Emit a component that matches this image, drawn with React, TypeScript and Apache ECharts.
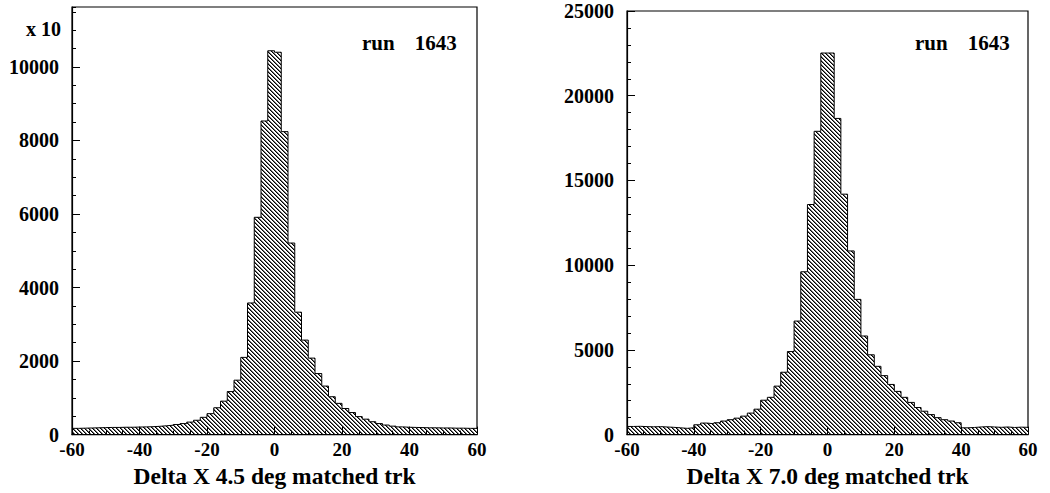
import React, { useEffect, useRef } from "react";
import * as echarts from "echarts";

// ---- data ----
const X_MIN = -60;
const X_MAX = 60;
const BIN_WIDTH = 2;
const xTickInterval = 20;

// left histogram (Delta X 4.5 deg), displayed in units of x10
const leftCounts = [
  170, 175, 180, 185, 190, 195, 195, 200, 200, 205,
  210, 215, 225, 240, 255, 275, 300, 340, 390, 470,
  570, 730, 910, 1170, 1480, 2100, 3580, 5910, 8530, 10440,
  10400, 8240, 5210, 3330, 2570, 2080, 1660, 1320, 1030, 850,
  710, 600, 490, 420, 350, 300, 260, 230, 210, 200,
  195, 190, 185, 185, 180, 180, 175, 175, 170, 170,
];

// right histogram (Delta X 7.0 deg)
const rightCounts = [
  480, 490, 470, 460, 470, 450, 430, 400, 370, 400,
  580, 680, 640, 700, 800, 880, 970, 1090, 1270, 1500,
  2030, 2200, 2860, 3680, 4900, 6700, 9610, 13580, 17900, 22520,
  22520, 18660, 14190, 10840, 7980, 5820, 4710, 4030, 3480, 2960,
  2550, 2200, 1900, 1600, 1380, 1180, 1000, 880, 800, 700,
  400, 420, 450, 470, 450, 430, 450, 420, 440, 430,
];

const leftYMax = 11630;
const leftYInterval = 2000;
const leftYMinor = 500;
const rightYMax = 25000;
const rightYInterval = 5000;

const leftTitle = "Delta X 4.5 deg matched trk";
const rightTitle = "Delta X 7.0 deg matched trk";
const runWord = "run";
const runNumber = "1643";
const leftScaleLabel = "x 10";

const FONT = "'Liberation Serif', 'Times New Roman', serif";

function stepPoints(counts: number[]) {
  const pts: number[][] = [];
  counts.forEach((v, i) => {
    const x0 = X_MIN + i * BIN_WIDTH;
    pts.push([x0, v], [x0 + BIN_WIDTH, v]);
  });
  return pts;
}

function makeHatch() {
  const s = 4;
  const c = document.createElement("canvas");
  c.width = s;
  c.height = s;
  const ctx = c.getContext("2d")!;
  ctx.fillStyle = "#ffffff";
  ctx.fillRect(0, 0, s, s);
  for (let i = 0; i < s; i++) {
    ctx.fillStyle = "#000000";
    ctx.fillRect(i, i, 1, 1);
    ctx.fillStyle = "#707070";
    ctx.fillRect((i + 1) % s, i, 1, 1);
  }
  return c;
}

export default function App() {
  const ref = useRef<HTMLDivElement>(null);
  useEffect(() => {
    if (!ref.current) return;
    const chart = echarts.init(ref.current, undefined, { renderer: "svg" });
    const hatch = makeHatch();
    const pattern: any = { image: hatch, repeat: "repeat", imageWidth: 4, imageHeight: 4 };

    const plain = (v: number) => String(v);
    const xLabelStyle = { color: "#000", fontSize: 19, lineHeight: 14, fontWeight: "bold" as const, fontFamily: FONT };
    const yLabelStyle = { color: "#000", fontSize: 20, lineHeight: 14, fontWeight: "bold" as const, fontFamily: FONT };
    const xAxisBase = (gridIndex: number, name: string) => ({
      type: "value" as const,
      gridIndex,
      min: X_MIN,
      max: X_MAX,
      interval: xTickInterval,
      z: 5,
      axisLine: { show: true, onZero: false, lineStyle: { color: "#000", width: 1.2 } },
      axisTick: { show: true, inside: true, length: 8, lineStyle: { color: "#000", width: 1 } },
      minorTick: { show: true, splitNumber: 4, length: 4, lineStyle: { color: "#000", width: 1 } },
      axisLabel: { ...xLabelStyle, margin: 8, formatter: plain },
      splitLine: { show: false },
      name,
      nameLocation: "middle" as const,
      nameGap: 20,
      nameTextStyle: { color: "#000", fontSize: 23.5, fontWeight: "bold" as const, fontFamily: FONT },
    });

    const runText = (left: number) => ({
      type: "text",
      left,
      top: 32,
      style: {
        text: `{a|${runWord}}{s|  }{a|${runNumber}}`,
        rich: {
          a: { fill: "#000", fontSize: 21, fontWeight: "bold", fontFamily: FONT },
          s: { fontSize: 21, width: 20 },
        },
      },
    });

    chart.setOption({
      animation: false,
      backgroundColor: "#fff",
      textStyle: { fontFamily: FONT },
      grid: [
        { left: 72, top: 7, width: 405, height: 431, show: true, borderColor: "#000", borderWidth: 1.2, backgroundColor: "transparent" },
        { left: 627, top: 11, width: 401, height: 428, show: true, borderColor: "#000", borderWidth: 1.2, backgroundColor: "transparent" },
      ],
      xAxis: [xAxisBase(0, leftTitle), xAxisBase(1, rightTitle)],
      yAxis: [
        {
          type: "value", gridIndex: 0, min: 0, max: leftYMax, interval: leftYInterval, z: 5,
          axisLine: { show: true, onZero: false, lineStyle: { color: "#000", width: 1.2 } },
          axisTick: { show: true, inside: true, length: 8, lineStyle: { color: "#000" } },
          axisLabel: { ...yLabelStyle, margin: 13, showMaxLabel: false, formatter: plain },
          splitLine: { show: false },
        },
        {
          type: "value", gridIndex: 0, position: "left", offset: 0, min: 0, max: leftYMax, interval: leftYMinor, z: 5,
          axisLine: { show: false, onZero: false },
          axisTick: { show: true, inside: true, length: 4, lineStyle: { color: "#000" } },
          axisLabel: { show: false },
          splitLine: { show: false },
        },
        {
          type: "value", gridIndex: 1, min: 0, max: rightYMax, interval: rightYInterval, z: 5,
          axisLine: { show: true, onZero: false, lineStyle: { color: "#000", width: 1.2 } },
          axisTick: { show: true, inside: true, length: 8, lineStyle: { color: "#000" } },
          minorTick: { show: true, splitNumber: 5, length: 4, lineStyle: { color: "#000" } },
          axisLabel: { ...yLabelStyle, margin: 13, formatter: plain },
          splitLine: { show: false },
        },
      ],
      series: [
        {
          type: "line", xAxisIndex: 0, yAxisIndex: 0, data: stepPoints(leftCounts),
          symbol: "none", silent: true,
          lineStyle: { color: "#000", width: 1 },
          areaStyle: { color: pattern, opacity: 1 },
        },
        {
          type: "line", xAxisIndex: 1, yAxisIndex: 2, data: stepPoints(rightCounts),
          symbol: "none", silent: true,
          lineStyle: { color: "#000", width: 1 },
          areaStyle: { color: pattern, opacity: 1 },
        },
      ],
      graphic: [
        runText(362),
        runText(915),
        { type: "text", left: 26, top: 19, style: { text: leftScaleLabel, fill: "#000", font: `bold 20px ${FONT}` } },
      ],
    });
    return () => chart.dispose();
  }, []);
  return (
    <div
      ref={ref}
      style={{ position: "fixed", left: 0, top: 0, width: 1050, height: 493, background: "#fff" }}
    />
  );
}
